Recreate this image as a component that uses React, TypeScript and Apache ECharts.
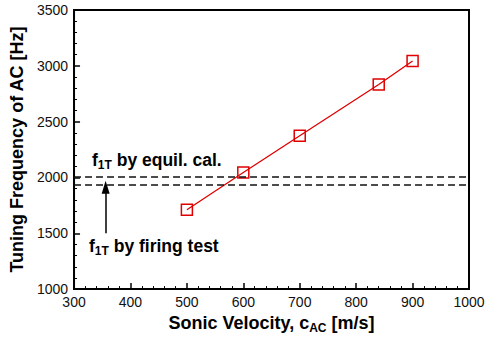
import React, { useEffect, useRef } from "react";
import * as echarts from "echarts";

const velocities = [500, 600, 700, 840, 900];
const frequencies = [1711, 2045, 2373, 2832, 3044];
const equilFreq = 2010;
const firingFreq = 1932;
const arrowX = 356;
const arrowFrom = 1500;
const arrowTo = 1912;
const xTicks = [300, 1000, 100];
const yTicks = [1000, 3500, 500];

const FONT = "Liberation Sans, Arial, sans-serif";

export default function App() {
  const ref = useRef<HTMLDivElement>(null);
  useEffect(() => {
    if (!ref.current) return;
    const chart = echarts.init(ref.current, null, { renderer: "svg" });
    const annSub = { fontFamily: FONT, fontWeight: "bold", fontSize: 12, padding: [9, 0, 0, 0], fill: "#000", color: "#000" };
    chart.setOption({
      animation: false,
      backgroundColor: "#fff",
      grid: { left: 70, right: 22, top: 10, bottom: 42, show: true, borderColor: "#000", borderWidth: 2, backgroundColor: "transparent" },
      xAxis: {
        type: "value",
        min: xTicks[0],
        max: xTicks[1],
        interval: xTicks[2],
        name: "Sonic Velocity, c{sub|AC} [m/s]",
        nameLocation: "middle",
        nameGap: 20,
        nameTextStyle: {
          fontFamily: FONT, fontWeight: "bold", fontSize: 18, color: "#000", verticalAlign: "top",
          rich: { sub: { fontFamily: FONT, fontWeight: "bold", fontSize: 12, color: "#000", padding: [10, 0, 0, 0] } },
        },
        axisLine: { lineStyle: { color: "#000", width: 2 } },
        axisTick: { inside: true, length: 6, lineStyle: { color: "#000", width: 1.5 } },
        minorTick: { show: true, splitNumber: 5, length: 3, lineStyle: { color: "#000", width: 1 } },
        axisLabel: { fontFamily: FONT, fontSize: 14, color: "#111", margin: 6, formatter: (v: number) => String(v) },
        splitLine: { show: false },
      },
      yAxis: {
        type: "value",
        min: yTicks[0],
        max: yTicks[1],
        interval: yTicks[2],
        name: "Tuning Frequency of AC [Hz]",
        nameLocation: "middle",
        nameGap: 40,
        nameTextStyle: { fontFamily: FONT, fontWeight: "bold", fontSize: 18, color: "#000" },
        axisLine: { lineStyle: { color: "#000", width: 2 } },
        axisTick: { inside: true, length: 6, lineStyle: { color: "#000", width: 1.5 } },
        minorTick: { show: true, splitNumber: 5, length: 3, lineStyle: { color: "#000", width: 1 } },
        axisLabel: { fontFamily: FONT, fontSize: 14, color: "#111", margin: 6, formatter: (v: number) => String(v) },
        splitLine: { show: false },
      },
      series: [
        {
          type: "line",
          data: velocities.map((v, i) => [v, frequencies[i]]),
          symbol: "rect",
          symbolSize: 11,
          lineStyle: { color: "#e00000", width: 1.3 },
          itemStyle: { color: "rgba(0,0,0,0)", borderColor: "#e00000", borderWidth: 1.5 },
          z: 3,
          markLine: {
            silent: true,
            symbol: ["none", "none"],
            label: { show: false },
            lineStyle: { color: "#111", width: 1.5, type: [7, 4] },
            data: [{ yAxis: equilFreq }, { yAxis: firingFreq }],
          },
        },
        {
          type: "line",
          data: [],
          markLine: {
            silent: true,
            symbol: ["none", "triangle"],
            symbolSize: [8, 13],
            label: { show: false },
            lineStyle: { color: "#000", width: 1.5, type: "solid" },
            itemStyle: { color: "#000" },
            data: [[{ coord: [arrowX, arrowFrom] }, { coord: [arrowX, arrowTo] }]],
          },
        },
      ],
      graphic: [
        {
          type: "text",
          left: 92,
          top: 151,
          style: {
            text: "f{sub|1T} by equil. cal.",
            fontFamily: FONT,
            fontWeight: "bold",
            fontSize: 17.5,
            fill: "#000",
            rich: { sub: annSub },
          },
        },
        {
          type: "text",
          left: 89,
          top: 237,
          style: {
            text: "f{sub|1T} by firing test",
            fontFamily: FONT,
            fontWeight: "bold",
            fontSize: 17.5,
            fill: "#000",
            rich: { sub: annSub },
          },
        },
      ],
    });
    return () => chart.dispose();
  }, []);
  return <div ref={ref} style={{ width: 491, height: 339, position: "absolute", left: 0, top: 0 }} />;
}
